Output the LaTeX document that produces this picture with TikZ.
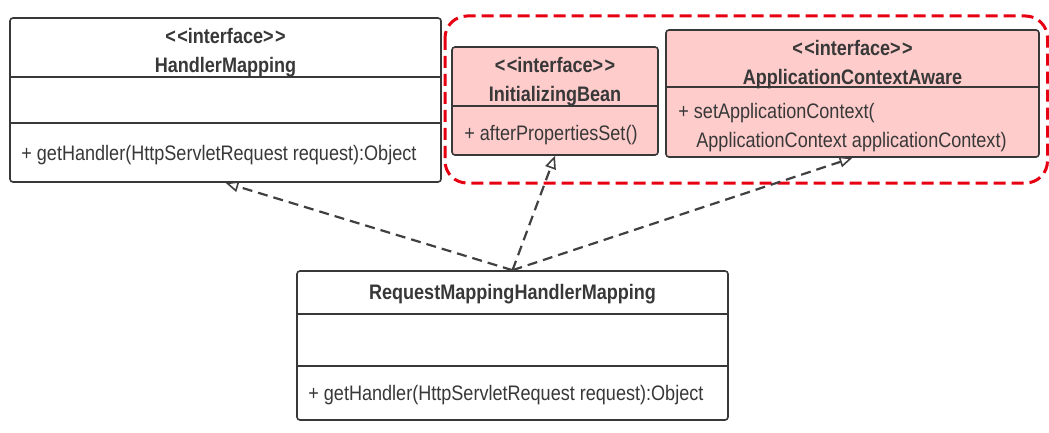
\documentclass[tikz,border=0pt]{standalone}
\usepackage{fontspec}
\setmainfont{Liberation Sans}[FakeStretch=0.86]
\usetikzlibrary{arrows.meta,positioning}
\definecolor{boxline}{HTML}{383838}
\definecolor{ifacefill}{HTML}{FFCCCC}
\definecolor{groupred}{HTML}{E60012}
\definecolor{linkgray}{HTML}{404040}
\newcommand{\stereo}[1]{<{}\kern1.5pt<#1>{}\kern1.5pt>}

\begin{document}
\begin{tikzpicture}[x=1pt,y=-1pt,
  umlbox/.style={draw=boxline,line width=1.6pt,rounded corners=3pt,fill=white,inner sep=0pt},
  ifacebox/.style={umlbox,fill=ifacefill},
  lbl/.style={inner sep=0pt,align=center,font=\fontsize{21}{29}\selectfont,text=boxline},
  head/.style={lbl,font=\fontsize{21}{29}\selectfont\bfseries},
  meth/.style={lbl,align=left,anchor=west},
  realize/.style={draw=linkgray,line width=2.2pt,dash pattern=on 10pt off 6pt,
                  -{Triangle[open,length=13pt,width=11pt,line width=1.6pt]}}]
\useasboundingbox (0,0) rectangle (1049,433);

\draw[groupred,line width=3pt,dash pattern=on 12pt off 6pt,rounded corners=22pt]
  (445,16) rectangle (1047.5,183);

\node[umlbox,minimum width=431pt,minimum height=164pt] (hm) at (225.5,100) {};
\draw[boxline,line width=1.6pt] ([yshift=-60pt]hm.north west) -- ([yshift=-60pt]hm.north east);
\draw[boxline,line width=1.6pt] ([yshift=-106pt]hm.north west) -- ([yshift=-106pt]hm.north east);
\node[head] (hmhead) at ([yshift=-35pt]hm.north) {\stereo{interface}\\HandlerMapping};
\node[meth] (hmmeth) at ([xshift=12pt,yshift=-138pt]hm.north west) {+ getHandler(HttpServletRequest request):Object};

\node[ifacebox,minimum width=206pt,minimum height=108pt] (ib) at (555,101) {};
\draw[boxline,line width=1.6pt] ([yshift=-60pt]ib.north west) -- ([yshift=-60pt]ib.north east);
\node[head] (ibhead) at ([yshift=-35pt]ib.north) {\stereo{interface}\\InitializingBean};
\node[meth] (ibmeth) at ([xshift=13pt,yshift=-89pt]ib.north west) {+ afterPropertiesSet()};

\node[ifacebox,minimum width=373pt,minimum height=127pt] (aca) at (852.5,93.5) {};
\draw[boxline,line width=1.6pt] ([yshift=-58pt]aca.north west) -- ([yshift=-58pt]aca.north east);
\node[head] (acahead) at ([yshift=-35pt]aca.north) {\stereo{interface}\\ApplicationContextAware};
\node[meth] (acameth) at ([xshift=13pt,yshift=-98pt]aca.north west)
  {+ setApplicationContext(\\\hspace*{18pt}ApplicationContext applicationContext)};

\node[umlbox,minimum width=431pt,minimum height=149pt] (rmhm) at (512.5,345.5) {};
\draw[boxline,line width=1.6pt] ([yshift=-44pt]rmhm.north west) -- ([yshift=-44pt]rmhm.north east);
\draw[boxline,line width=1.6pt] ([yshift=-96pt]rmhm.north west) -- ([yshift=-96pt]rmhm.north east);
\node[head] (rmhmhead) at ([yshift=-24pt]rmhm.north) {RequestMappingHandlerMapping};
\node[meth] (rmhmmeth) at ([xshift=12pt,yshift=-125pt]rmhm.north west) {+ getHandler(HttpServletRequest request):Object};

\draw[realize] (rmhm.north) -- (hm.south);
\draw[realize] (rmhm.north) -- (ib.south);
\draw[realize] (rmhm.north) -- (aca.south);
\end{tikzpicture}
\end{document}
